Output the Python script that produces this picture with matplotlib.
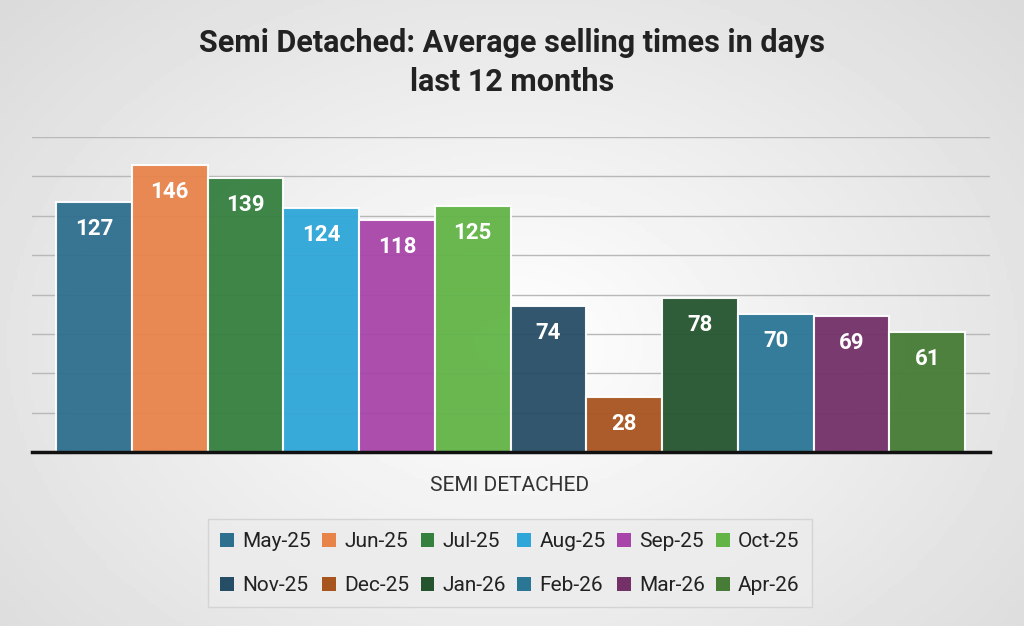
import matplotlib.pyplot as plt
import numpy as np
from matplotlib.patches import Patch

# Series data: one category, twelve monthly series
category = "SEMI DETACHED"
months = ["May-25", "Jun-25", "Jul-25", "Aug-25", "Sep-25", "Oct-25",
          "Nov-25", "Dec-25", "Jan-26", "Feb-26", "Mar-26", "Apr-26"]
days = [127, 146, 139, 124, 118, 125, 74, 28, 78, 70, 69, 61]
colors = ["#2e6f8e", "#e8834a", "#357f3f", "#2ea6d9", "#a845a8", "#62b447",
          "#264d66", "#a8541f", "#25552f", "#2a7695", "#733168", "#467c35"]

plt.rcParams['font.family'] = ['Roboto', 'DejaVu Sans']

fig = plt.figure(figsize=(10.24, 6.26), dpi=100)

# soft grey gradient background
bg = fig.add_axes([0, 0, 1, 1], zorder=-10)
yy, xx = np.mgrid[0:1:200j, 0:1:300j]
r = np.sqrt(((xx - 0.5) / 0.75) ** 2 + ((yy - 0.55) / 0.9) ** 2)
bg.imshow(1 - 0.16 * r, cmap='gray', vmin=0, vmax=1, aspect='auto',
          extent=[0, 1, 0, 1])
bg.axis('off')

ax = fig.add_axes([0.031, 0.278, 0.936, 0.503])
ax.patch.set_alpha(0)

x = np.arange(len(days))
bars = ax.bar(x, days, width=1.0, color=colors, edgecolor='white',
              linewidth=1.5, alpha=0.95, zorder=2)

for b, v in zip(bars, days):
    ax.annotate(str(v), (b.get_x() + b.get_width() / 2, v),
                xytext=(0, -27), textcoords='offset pixels',
                ha='center', va='center', color='white',
                fontsize=16, fontweight='bold', zorder=3)

ax.set_ylim(0, 160)
ax.set_xlim(-0.5 - 0.32, len(days) - 0.5 + 0.33)
ax.set_yticks(np.arange(20, 161, 20))
ax.yaxis.grid(True, color='#b8b8b8', linewidth=1.0, zorder=0)
ax.set_axisbelow(True)
ax.tick_params(left=False, labelleft=False, bottom=False, labelbottom=False)
for s in ['top', 'right', 'left']:
    ax.spines[s].set_visible(False)
ax.spines['bottom'].set_color('#111111')
ax.spines['bottom'].set_linewidth(2.5)

fig.text(0.498, 0.225, category, ha='center', va='center',
         fontsize=15, color='#333333')

fig.text(0.5, 0.932, "Semi Detached: Average selling times in days",
         ha='center', va='center', fontsize=22, fontweight='bold',
         color='#222222')
fig.text(0.5, 0.869, "last 12 months", ha='center', va='center',
         fontsize=22, fontweight='bold', color='#222222')

# legend fills row by row: reorder for matplotlib's column-major layout
ncol = 6
order = [r * ncol + c for c in range(ncol) for r in range(2)]
handles = [Patch(facecolor=colors[i], label=months[i]) for i in order]
leg = fig.legend(handles=handles, ncol=ncol, loc='center',
                 bbox_to_anchor=(0.498, 0.1), fontsize=15,
                 frameon=True, fancybox=False, handlelength=0.65,
                 handleheight=0.65, handletextpad=0.4, columnspacing=0.55,
                 labelspacing=1.2, borderpad=0.6)
leg.get_frame().set_facecolor('#ececec')
leg.get_frame().set_edgecolor('#cfcfcf')
for t in leg.get_texts():
    t.set_color('#222222')

fig.savefig('out.png', dpi=100)
